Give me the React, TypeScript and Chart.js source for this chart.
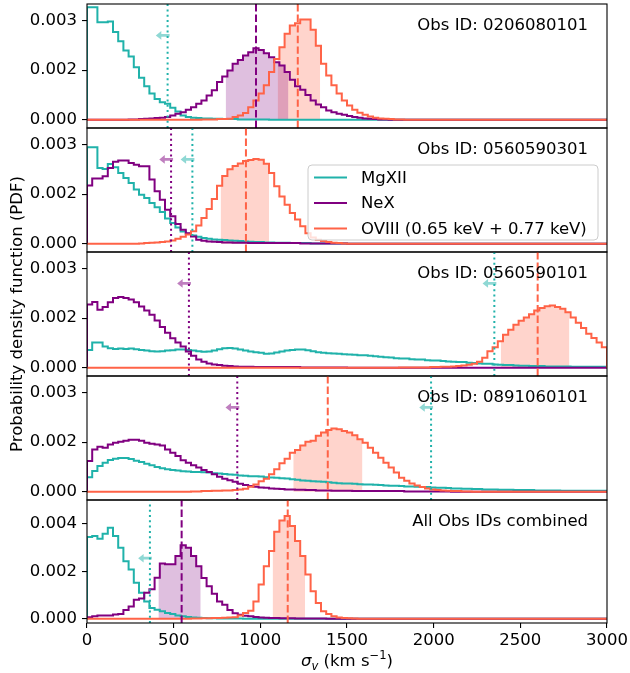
import React, { useEffect, useRef } from 'react';
import { Chart, registerables } from 'chart.js';

Chart.register(...registerables);

// ---------------- DATA ----------------
const BIN_WIDTH = 30; // km/s
const X_MIN = 0;
const X_MAX = 3000;
const X_TICK_STEP = 500;
const SCALE = 1e-3; // histogram values below are given in units of 1e-3

const ION_NAMES = ['MgXII', 'NeX', 'OVIII (0.65 keV + 0.77 keV)'];
const OBS_LABELS = ['Obs ID: 0206080101', 'Obs ID: 0560590301', 'Obs ID: 0560590101', 'Obs ID: 0891060101', 'All Obs IDs combined'];

const Y_TICKS_A = [0, 0.0015, 0.003];
const Y_LABELS_A = ['0.000', '0.002', '0.003'];
const Y_RANGE_A = [-0.00025, 0.0035];
const Y_TICKS_B = [0, 0.002, 0.004];
const Y_LABELS_B = ['0.000', '0.002', '0.004'];
const Y_RANGE_B = [-0.00018, 0.005];

const X_LABEL_PARTS = ['σ', 'v', ' (km s', '−1', ')'];
const Y_TITLE = 'Probability density function (PDF)';

// Panel 1 : 0206080101
const P1_MG = [
  3.40, 3.40, 2.95, 2.95, 2.97, 2.65, 2.37, 2.09, 1.91, 1.59,
  1.27, 1.01, 0.79, 0.63, 0.53, 0.48, 0.36, 0.25, 0.13, 0.08,
  0.06, 0.05, 0.04, 0.04, 0.03, 0.03, 0.02, 0.02, 0.02, 0.01,
  0.01, 0.01, 0.01, 0.01, 0.01, 0, 0, 0, 0, 0,
  0, 0, 0, 0, 0, 0, 0, 0, 0, 0,
  0, 0, 0, 0, 0, 0, 0, 0, 0, 0,
  0, 0, 0, 0, 0, 0, 0, 0, 0, 0,
  0, 0, 0, 0, 0, 0, 0, 0, 0, 0,
  0, 0, 0, 0, 0, 0, 0, 0, 0, 0,
  0, 0, 0, 0, 0, 0, 0, 0, 0, 0,
];
const P1_NE = [
  0, 0, 0, 0, 0, 0, 0, 0, 0.01, 0.01,
  0.02, 0.03, 0.04, 0.05, 0.06, 0.08, 0.13, 0.18, 0.23, 0.30,
  0.38, 0.48, 0.58, 0.73, 0.89, 1.14, 1.31, 1.49, 1.69, 1.81,
  1.94, 2.04, 2.16, 2.11, 2.01, 1.89, 1.74, 1.64, 1.44, 1.21,
  1.01, 0.91, 0.75, 0.58, 0.46, 0.38, 0.28, 0.23, 0.18, 0.15,
  0.11, 0.08, 0.06, 0.04, 0.03, 0.02, 0.01, 0.01, 0, 0,
  0, 0, 0, 0, 0, 0, 0, 0, 0, 0,
  0, 0, 0, 0, 0, 0, 0, 0, 0, 0,
  0, 0, 0, 0, 0, 0, 0, 0, 0, 0,
  0, 0, 0, 0, 0, 0, 0, 0, 0, 0,
];
const P1_O = [
  0, 0, 0, 0, 0, 0, 0, 0, 0, 0,
  0, 0, 0, 0, 0, 0, 0, 0, 0, 0,
  0, 0, 0.01, 0.01, 0.01, 0.02, 0.02, 0.03, 0.08, 0.13,
  0.20, 0.38, 0.58, 0.79, 1.04, 1.44, 1.84, 2.19, 2.60, 2.85,
  2.92, 3.03, 3.03, 2.72, 2.24, 1.69, 1.34, 1.04, 0.79, 0.58,
  0.43, 0.30, 0.21, 0.15, 0.10, 0.06, 0.04, 0.03, 0.02, 0.01,
  0.01, 0, 0, 0, 0, 0, 0, 0, 0, 0,
  0, 0, 0, 0, 0, 0, 0, 0, 0, 0,
  0, 0, 0, 0, 0, 0, 0, 0, 0, 0,
  0, 0, 0, 0, 0, 0, 0, 0, 0, 0,
];

// Panel 2 : 0560590301
const P2_MG = [
  2.92, 2.92, 2.29, 2.26, 2.41, 2.31, 2.14, 1.99, 1.84, 1.64,
  1.48, 1.38, 1.23, 1.10, 0.96, 0.76, 0.63, 0.49, 0.37, 0.30,
  0.25, 0.21, 0.17, 0.15, 0.13, 0.12, 0.11, 0.10, 0.09, 0.08,
  0.07, 0.06, 0.05, 0.05, 0.04, 0.04, 0.03, 0.03, 0.03, 0.02,
  0.02, 0.02, 0.02, 0.01, 0.01, 0.01, 0.01, 0.01, 0.01, 0.01,
  0, 0, 0, 0, 0, 0, 0, 0, 0, 0,
  0, 0, 0, 0, 0, 0, 0, 0, 0, 0,
  0, 0, 0, 0, 0, 0, 0, 0, 0, 0,
  0, 0, 0, 0, 0, 0, 0, 0, 0, 0,
  0, 0, 0, 0, 0, 0, 0, 0, 0, 0,
];
const P2_NE = [
  1.76, 1.97, 1.97, 2.04, 2.29, 2.48, 2.52, 2.52, 2.44, 2.39,
  2.34, 2.34, 1.94, 1.59, 1.33, 1.03, 0.83, 0.60, 0.42, 0.32,
  0.22, 0.12, 0.09, 0.07, 0.06, 0.05, 0.04, 0.04, 0.03, 0.03,
  0.03, 0.02, 0.02, 0.02, 0.02, 0.02, 0.02, 0.02, 0.02, 0.02,
  0.02, 0.01, 0.01, 0.01, 0.01, 0.01, 0.01, 0.01, 0.01, 0.01,
  0, 0, 0, 0, 0, 0, 0, 0, 0, 0,
  0, 0, 0, 0, 0, 0, 0, 0, 0, 0,
  0, 0, 0, 0, 0, 0, 0, 0, 0, 0,
  0, 0, 0, 0, 0, 0, 0, 0, 0, 0,
  0, 0, 0, 0, 0, 0, 0, 0, 0, 0,
];
const P2_O = [
  0, 0, 0, 0, 0, 0, 0, 0, 0, 0,
  0.01, 0.02, 0.03, 0.04, 0.05, 0.07, 0.10, 0.15, 0.21, 0.28,
  0.38, 0.55, 0.78, 1.05, 1.35, 1.75, 2.05, 2.25, 2.35, 2.43,
  2.50, 2.53, 2.56, 2.54, 2.42, 2.14, 1.74, 1.43, 1.18, 0.93,
  0.73, 0.53, 0.32, 0.19, 0.12, 0.08, 0.05, 0.03, 0.02, 0.01,
  0, 0, 0, 0, 0, 0, 0, 0, 0, 0,
  0, 0, 0, 0, 0, 0, 0, 0, 0, 0,
  0, 0, 0, 0, 0, 0, 0, 0, 0, 0,
  0, 0, 0, 0, 0, 0, 0, 0, 0, 0,
  0, 0, 0, 0, 0, 0, 0, 0, 0, 0,
];

// Panel 3 : 0560590101
const P3_MG = [
  0.54, 0.76, 0.76, 0.64, 0.59, 0.57, 0.58, 0.57, 0.58, 0.56,
  0.54, 0.52, 0.50, 0.49, 0.50, 0.52, 0.53, 0.55, 0.55, 0.54,
  0.52, 0.50, 0.48, 0.49, 0.52, 0.56, 0.59, 0.60, 0.58, 0.55,
  0.52, 0.49, 0.47, 0.45, 0.42, 0.43, 0.46, 0.49, 0.52, 0.54,
  0.55, 0.55, 0.53, 0.50, 0.47, 0.45, 0.44, 0.43, 0.42, 0.41,
  0.40, 0.39, 0.38, 0.38, 0.36, 0.35, 0.33, 0.32, 0.31, 0.29,
  0.28, 0.28, 0.26, 0.25, 0.25, 0.23, 0.22, 0.22, 0.20, 0.19,
  0.18, 0.17, 0.17, 0.15, 0.14, 0.13, 0.12, 0.12, 0.10, 0.09,
  0.08, 0.08, 0.07, 0.06, 0.06, 0.05, 0.05, 0.05, 0.04, 0.04,
  0.04, 0.04, 0.04, 0.03, 0.03, 0.03, 0.03, 0.03, 0.03, 0.03,
];
const P3_NE = [
  1.91, 1.99, 1.75, 1.84, 1.98, 2.11, 2.14, 2.11, 2.06, 1.98,
  1.85, 1.73, 1.60, 1.43, 1.23, 1.06, 0.89, 0.76, 0.64, 0.49,
  0.36, 0.25, 0.18, 0.13, 0.10, 0.08, 0.06, 0.05, 0.04, 0.03,
  0.03, 0.03, 0.02, 0.02, 0.02, 0.02, 0.02, 0.02, 0.02, 0.02,
  0.02, 0.01, 0.01, 0.01, 0.01, 0.01, 0.01, 0.01, 0.01, 0.01,
  0, 0, 0, 0, 0, 0, 0, 0, 0, 0,
  0, 0, 0, 0, 0, 0, 0, 0, 0, 0,
  0, 0, 0, 0, 0, 0, 0, 0, 0, 0,
  0, 0, 0, 0, 0, 0, 0, 0, 0, 0,
  0, 0, 0, 0, 0, 0, 0, 0, 0, 0,
];
const P3_O = [
  0, 0, 0, 0, 0, 0, 0, 0, 0, 0,
  0, 0, 0, 0, 0, 0, 0, 0, 0, 0,
  0, 0, 0, 0, 0, 0, 0, 0, 0, 0,
  0, 0, 0, 0, 0, 0, 0, 0, 0, 0,
  0, 0, 0, 0, 0, 0, 0, 0, 0, 0,
  0, 0, 0, 0, 0, 0, 0, 0, 0, 0,
  0.01, 0.01, 0.01, 0.01, 0.01, 0.01, 0.02, 0.02, 0.03, 0.03,
  0.04, 0.05, 0.07, 0.09, 0.12, 0.18, 0.30, 0.50, 0.62, 0.80,
  1.00, 1.15, 1.30, 1.42, 1.52, 1.62, 1.73, 1.81, 1.86, 1.88,
  1.84, 1.78, 1.68, 1.52, 1.36, 1.20, 1.03, 0.90, 0.76, 0.62,
];

// Panel 4 : 0891060101
const P4_MG = [
  0.44, 0.63, 0.78, 0.88, 0.96, 1.00, 1.02, 1.02, 0.99, 0.94,
  0.90, 0.85, 0.80, 0.75, 0.71, 0.68, 0.66, 0.64, 0.62, 0.61,
  0.60, 0.60, 0.59, 0.58, 0.56, 0.55, 0.54, 0.52, 0.51, 0.49,
  0.48, 0.47, 0.47, 0.46, 0.44, 0.43, 0.42, 0.41, 0.40, 0.38,
  0.36, 0.34, 0.33, 0.32, 0.31, 0.30, 0.29, 0.27, 0.26, 0.25,
  0.25, 0.24, 0.23, 0.22, 0.22, 0.21, 0.20, 0.19, 0.18, 0.18,
  0.17, 0.16, 0.16, 0.15, 0.14, 0.14, 0.13, 0.12, 0.12, 0.11,
  0.10, 0.10, 0.09, 0.09, 0.08, 0.08, 0.07, 0.07, 0.07, 0.06,
  0.06, 0.06, 0.05, 0.05, 0.05, 0.05, 0.04, 0.04, 0.04, 0.04,
  0.04, 0.03, 0.03, 0.03, 0.03, 0.03, 0.03, 0.03, 0.03, 0.03,
];
const P4_NE = [
  0.93, 1.28, 1.36, 1.33, 1.43, 1.48, 1.51, 1.54, 1.57, 1.57,
  1.54, 1.48, 1.45, 1.43, 1.40, 1.28, 1.18, 1.08, 0.95, 0.88,
  0.80, 0.73, 0.66, 0.60, 0.53, 0.45, 0.39, 0.35, 0.30, 0.24,
  0.20, 0.17, 0.15, 0.13, 0.12, 0.10, 0.09, 0.08, 0.07, 0.07,
  0.06, 0.06, 0.05, 0.05, 0.04, 0.04, 0.04, 0.03, 0.03, 0.03,
  0.03, 0.02, 0.02, 0.02, 0.02, 0.02, 0.02, 0.02, 0.02, 0.02,
  0.02, 0.01, 0.01, 0.01, 0.01, 0.01, 0.01, 0.01, 0.01, 0.01,
  0, 0, 0, 0, 0, 0, 0, 0, 0, 0,
  0, 0, 0, 0, 0, 0, 0, 0, 0, 0,
  0, 0, 0, 0, 0, 0, 0, 0, 0, 0,
];
const P4_O = [
  0, 0, 0, 0, 0, 0, 0, 0, 0, 0,
  0, 0, 0, 0, 0, 0, 0, 0, 0, 0,
  0.01, 0.01, 0.02, 0.02, 0.03, 0.03, 0.04, 0.04, 0.05, 0.07,
  0.09, 0.15, 0.22, 0.32, 0.39, 0.53, 0.68, 0.86, 1.00, 1.18,
  1.26, 1.40, 1.51, 1.54, 1.69, 1.79, 1.87, 1.91, 1.89, 1.84,
  1.79, 1.71, 1.59, 1.48, 1.33, 1.18, 1.03, 0.88, 0.73, 0.58,
  0.42, 0.33, 0.25, 0.19, 0.14, 0.10, 0.07, 0.05, 0.04, 0.03,
  0.02, 0.02, 0.01, 0.01, 0, 0, 0, 0, 0, 0,
  0, 0, 0, 0, 0, 0, 0, 0, 0, 0,
  0, 0, 0, 0, 0, 0, 0, 0, 0, 0,
];

// Panel 5 : all combined
const P5_MG = [
  3.44, 3.48, 3.37, 3.58, 3.83, 3.48, 2.99, 2.42, 2.07, 1.51,
  1.09, 0.73, 0.45, 0.38, 0.31, 0.24, 0.20, 0.14, 0.10, 0.07,
  0.05, 0.04, 0.03, 0.02, 0.02, 0.01, 0.01, 0.01, 0.01, 0.01,
  0, 0, 0, 0, 0, 0, 0, 0, 0, 0,
  0, 0, 0, 0, 0, 0, 0, 0, 0, 0,
  0, 0, 0, 0, 0, 0, 0, 0, 0, 0,
  0, 0, 0, 0, 0, 0, 0, 0, 0, 0,
  0, 0, 0, 0, 0, 0, 0, 0, 0, 0,
  0, 0, 0, 0, 0, 0, 0, 0, 0, 0,
  0, 0, 0, 0, 0, 0, 0, 0, 0, 0,
];
const P5_NE = [
  0.06, 0.10, 0.14, 0.14, 0.14, 0.18, 0.20, 0.37, 0.52, 0.80,
  0.85, 1.09, 1.24, 1.73, 2.33, 2.29, 2.29, 2.64, 3.09, 2.99,
  2.64, 2.21, 1.72, 1.37, 1.05, 0.73, 0.59, 0.37, 0.23, 0.17,
  0.13, 0.10, 0.07, 0.05, 0.04, 0.03, 0.03, 0.02, 0.02, 0.02,
  0.01, 0.01, 0.01, 0.01, 0.01, 0.01, 0, 0, 0, 0,
  0, 0, 0, 0, 0, 0, 0, 0, 0, 0,
  0, 0, 0, 0, 0, 0, 0, 0, 0, 0,
  0, 0, 0, 0, 0, 0, 0, 0, 0, 0,
  0, 0, 0, 0, 0, 0, 0, 0, 0, 0,
  0, 0, 0, 0, 0, 0, 0, 0, 0, 0,
];
const P5_O = [
  0, 0, 0, 0, 0, 0, 0, 0, 0, 0,
  0, 0, 0, 0, 0, 0, 0, 0, 0, 0,
  0.01, 0.01, 0.02, 0.02, 0.03, 0.03, 0.04, 0.05, 0.06, 0.14,
  0.24, 0.34, 0.73, 1.44, 2.21, 2.85, 3.66, 4.14, 4.33, 3.90,
  3.27, 2.64, 1.86, 1.16, 0.66, 0.31, 0.20, 0.10, 0.05, 0.03,
  0.02, 0.01, 0, 0, 0, 0, 0, 0, 0, 0,
  0, 0, 0, 0, 0, 0, 0, 0, 0, 0,
  0, 0, 0, 0, 0, 0, 0, 0, 0, 0,
  0, 0, 0, 0, 0, 0, 0, 0, 0, 0,
  0, 0, 0, 0, 0, 0, 0, 0, 0, 0,
];

// Upper limits: [ion index, sigma_v (km/s)]
const P1_LIMITS = [[0, 465]];
const P2_LIMITS = [[1, 485], [0, 608]];
const P3_LIMITS = [[1, 588], [0, 2350]];
const P4_LIMITS = [[1, 867], [0, 1985]];
const P5_LIMITS = [[0, 363]];
// Measurements: [ion index, value, lower, upper] (km/s)
const P1_MEASURED = [[1, 975, 800, 1162], [2, 1216, 1100, 1345]];
const P2_MEASURED = [[2, 917, 771, 1050]];
const P3_MEASURED = [[2, 2600, 2387, 2783]];
const P4_MEASURED = [[2, 1389, 1190, 1589]];
const P5_MEASURED = [[1, 546, 412, 656], [2, 1158, 1071, 1258]];

const ARROW_Y = 0.00255; // data units
const ARROW_LEN = 68; // km/s

// ---------------- STYLE / LAYOUT ----------------
const ION_COLORS = ['#20B2AA', '#800080', '#FF6347'];
const ION_FILLS = ['rgba(32,178,170,0.25)', 'rgba(128,0,128,0.25)', 'rgba(255,99,71,0.28)'];
const ION_ARROWS = ['rgba(32,178,170,0.5)', 'rgba(128,0,128,0.5)', 'rgba(255,99,71,0.5)'];
const FONT_FAMILY = "'DejaVu Sans'";
const FONT_SIZE = 16.5;
const W = 630;
const H = 673;
const PANEL_TOPS = [4, 128, 252, 376, 500];
const PANEL_BOTTOMS = [128, 252, 376, 500, 623];
const AXIS_LEFT = 87;
const RIGHT_PAD = 23;

const PANELS = [
  { label: OBS_LABELS[0], hist: [P1_MG, P1_NE, P1_O], limits: P1_LIMITS, measured: P1_MEASURED, yt: Y_TICKS_A, yl: Y_LABELS_A, yr: Y_RANGE_A },
  { label: OBS_LABELS[1], hist: [P2_MG, P2_NE, P2_O], limits: P2_LIMITS, measured: P2_MEASURED, yt: Y_TICKS_A, yl: Y_LABELS_A, yr: Y_RANGE_A },
  { label: OBS_LABELS[2], hist: [P3_MG, P3_NE, P3_O], limits: P3_LIMITS, measured: P3_MEASURED, yt: Y_TICKS_A, yl: Y_LABELS_A, yr: Y_RANGE_A },
  { label: OBS_LABELS[3], hist: [P4_MG, P4_NE, P4_O], limits: P4_LIMITS, measured: P4_MEASURED, yt: Y_TICKS_A, yl: Y_LABELS_A, yr: Y_RANGE_A },
  { label: OBS_LABELS[4], hist: [P5_MG, P5_NE, P5_O], limits: P5_LIMITS, measured: P5_MEASURED, yt: Y_TICKS_B, yl: Y_LABELS_B, yr: Y_RANGE_B },
];

function histPoints(vals: number[]) {
  const pts: { x: number; y: number }[] = [{ x: X_MIN, y: 0 }];
  vals.forEach((v, i) => pts.push({ x: X_MIN + i * BIN_WIDTH, y: v * SCALE }));
  pts.push({ x: X_MAX, y: vals[vals.length - 1] * SCALE });
  pts.push({ x: X_MAX, y: 0 });
  return pts;
}

function fillPoints(vals: number[], x0: number, x1: number) {
  const pts: { x: number; y: number }[] = [];
  const i0 = Math.floor((x0 - X_MIN) / BIN_WIDTH);
  pts.push({ x: x0, y: vals[i0] * SCALE });
  for (let i = i0 + 1; X_MIN + i * BIN_WIDTH < x1; i++) {
    pts.push({ x: X_MIN + i * BIN_WIDTH, y: vals[i] * SCALE });
  }
  const iLast = Math.floor((x1 - X_MIN - 1e-9) / BIN_WIDTH);
  pts.push({ x: x1, y: vals[iLast] * SCALE });
  return pts;
}

function decorPlugin(pi: number) {
  const P = PANELS[pi];
  return {
    id: 'decor' + pi,
    afterDatasetsDraw(chart: any) {
      const { ctx, chartArea: a, scales } = chart;
      const xs = scales.x;
      const ys = scales.y;
      ctx.save();
      // arrows for upper limits
      for (const [ion, val] of P.limits) {
        const xTail = xs.getPixelForValue(val) + 2;
        const xTip = xs.getPixelForValue(val - ARROW_LEN);
        const y = ys.getPixelForValue(ARROW_Y);
        const hl = 5.5, hh = 4.3, sh = 1.4;
        ctx.beginPath();
        ctx.moveTo(xTail, y - sh);
        ctx.lineTo(xTip + hl, y - sh);
        ctx.lineTo(xTip + hl, y - hh);
        ctx.lineTo(xTip, y);
        ctx.lineTo(xTip + hl, y + hh);
        ctx.lineTo(xTip + hl, y + sh);
        ctx.lineTo(xTail, y + sh);
        ctx.closePath();
        ctx.fillStyle = ION_ARROWS[ion];
        ctx.fill();
      }
      // panel label
      ctx.font = `${FONT_SIZE}px ${FONT_FAMILY}`;
      ctx.fillStyle = '#000';
      ctx.textAlign = 'right';
      ctx.textBaseline = 'alphabetic';
      ctx.fillText(P.label, a.right - 19, a.top + 25.5);
      // legend
      if (pi === 1) {
        const bx = a.right - 299, by = a.top + 37, bw = 290, bh = 75;
        ctx.beginPath();
        if (ctx.roundRect) ctx.roundRect(bx, by, bw, bh, 4); else ctx.rect(bx, by, bw, bh);
        ctx.fillStyle = 'rgba(255,255,255,0.8)';
        ctx.fill();
        ctx.strokeStyle = '#cccccc';
        ctx.lineWidth = 1;
        ctx.stroke();
        const rows = [49.5, 75, 100.5];
        ION_NAMES.forEach((name, k) => {
          const ry = a.top + rows[k];
          ctx.beginPath();
          ctx.moveTo(bx + 6, ry);
          ctx.lineTo(bx + 39, ry);
          ctx.strokeStyle = ION_COLORS[k];
          ctx.lineWidth = 2;
          ctx.stroke();
          ctx.fillStyle = '#000';
          ctx.textAlign = 'left';
          ctx.textBaseline = 'middle';
          ctx.fillText(name, bx + 53, ry + 1);
        });
      }
      // frame
      ctx.strokeStyle = '#000';
      ctx.lineWidth = 1.1;
      ctx.strokeRect(a.left, a.top, a.right - a.left, a.bottom - a.top);
      // x axis title on the last panel
      if (pi === PANELS.length - 1) {
        const big = `${FONT_SIZE}px ${FONT_FAMILY}`;
        const bigIt = `italic ${FONT_SIZE}px ${FONT_FAMILY}`;
        const small = `${FONT_SIZE * 0.7}px ${FONT_FAMILY}`;
        const smallIt = `italic ${FONT_SIZE * 0.7}px ${FONT_FAMILY}`;
        const parts = [
          { t: X_LABEL_PARTS[0], f: bigIt, dy: 0 },
          { t: X_LABEL_PARTS[1], f: smallIt, dy: 3.5 },
          { t: X_LABEL_PARTS[2], f: big, dy: 0 },
          { t: X_LABEL_PARTS[3], f: small, dy: -7 },
          { t: X_LABEL_PARTS[4], f: big, dy: 0 },
        ];
        let total = 0;
        const widths = parts.map((p) => { ctx.font = p.f; const w = ctx.measureText(p.t).width; total += w; return w; });
        let x = (a.left + a.right) / 2 - total / 2;
        const base = a.bottom + 43;
        ctx.textAlign = 'left';
        ctx.textBaseline = 'alphabetic';
        ctx.fillStyle = '#000';
        parts.forEach((p, k) => { ctx.font = p.f; ctx.fillText(p.t, x, base + p.dy); x += widths[k]; });
      }
      ctx.restore();
    },
  };
}

function makeConfig(pi: number): any {
  const P = PANELS[pi];
  const isLast = pi === PANELS.length - 1;
  const font = { family: FONT_FAMILY, size: FONT_SIZE };
  const datasets: any[] = [];
  const [ymin, ymax] = P.yr;
  // vertical lines
  for (const [ion, val] of P.limits) {
    datasets.push({
      data: [{ x: val, y: ymin }, { x: val, y: ymax }],
      borderColor: ION_COLORS[ion], borderWidth: 2, borderDash: [2, 3.3],
      pointRadius: 0, order: 0, fill: false,
    });
  }
  for (const [ion, val] of P.measured) {
    datasets.push({
      data: [{ x: val, y: ymin }, { x: val, y: ymax }],
      borderColor: ION_COLORS[ion], borderWidth: 2, borderDash: [7.4, 3.2],
      pointRadius: 0, order: 0, fill: false,
    });
  }
  // histograms
  P.hist.forEach((vals, ion) => {
    datasets.push({
      label: ION_NAMES[ion],
      data: histPoints(vals),
      borderColor: ION_COLORS[ion], borderWidth: 2, stepped: 'before',
      pointRadius: 0, fill: false, order: 3 - ion, borderJoinStyle: 'miter',
    });
  });
  // shaded intervals
  for (const [ion, , lo, hi] of P.measured) {
    datasets.push({
      data: fillPoints(P.hist[ion], lo, hi),
      borderColor: 'rgba(0,0,0,0)', borderWidth: 0, stepped: 'before',
      backgroundColor: ION_FILLS[ion], fill: 'origin', pointRadius: 0, order: 5,
    });
  }
  return {
    type: 'line',
    data: { datasets },
    options: {
      responsive: false,
      animation: false,
      devicePixelRatio: 1,
      events: [],
      layout: { padding: { top: PANEL_TOPS[pi], bottom: isLast ? 0 : H - PANEL_BOTTOMS[pi], left: 0, right: RIGHT_PAD } },
      plugins: { legend: { display: false }, tooltip: { enabled: false }, title: { display: false } },
      scales: {
        x: {
          type: 'linear', min: X_MIN, max: X_MAX, display: isLast,
          ticks: { stepSize: X_TICK_STEP, autoSkip: false, maxRotation: 0, font, color: '#000', padding: 3, callback: (v: any) => String(v) },
          grid: { drawOnChartArea: false, drawTicks: true, tickLength: 5, color: '#000', lineWidth: 1.1 },
          border: { display: false },
          afterFit: (s: any) => { s.height = isLast ? H - PANEL_BOTTOMS[pi] : 0; s.paddingLeft = 0; s.paddingRight = 0; },
        },
        y: {
          type: 'linear', min: ymin, max: ymax,
          afterBuildTicks: (s: any) => { s.ticks = P.yt.map((v) => ({ value: v })); },
          ticks: { callback: (_v: any, idx: number) => P.yl[idx], font, color: '#000', padding: 5 },
          grid: { drawOnChartArea: false, drawTicks: true, tickLength: 5, color: '#000', lineWidth: 1.1 },
          border: { display: false },
          title: pi === 2
            ? { display: true, text: Y_TITLE, font, color: '#000', padding: { top: 8, bottom: 0 } }
            : { display: false },
          afterFit: (s: any) => { s.width = AXIS_LEFT; s.paddingTop = 0; s.paddingBottom = 0; },
        },
      },
    },
    plugins: [decorPlugin(pi)],
  };
}

export default function App() {
  const refs = useRef<(HTMLCanvasElement | null)[]>([]);
  useEffect(() => {
    const charts = PANELS.map((_, i) => new Chart(refs.current[i] as HTMLCanvasElement, makeConfig(i)));
    return () => charts.forEach((c) => c.destroy());
  }, []);
  return (
    <div style={{ position: 'absolute', left: 0, top: 0, width: W, height: H, background: '#fff' }}>
      {PANELS.map((_, i) => (
        <canvas
          key={i}
          ref={(el) => { refs.current[i] = el; }}
          width={W}
          height={H}
          style={{ position: 'absolute', left: 0, top: 0, width: W, height: H }}
        />
      ))}
    </div>
  );
}
